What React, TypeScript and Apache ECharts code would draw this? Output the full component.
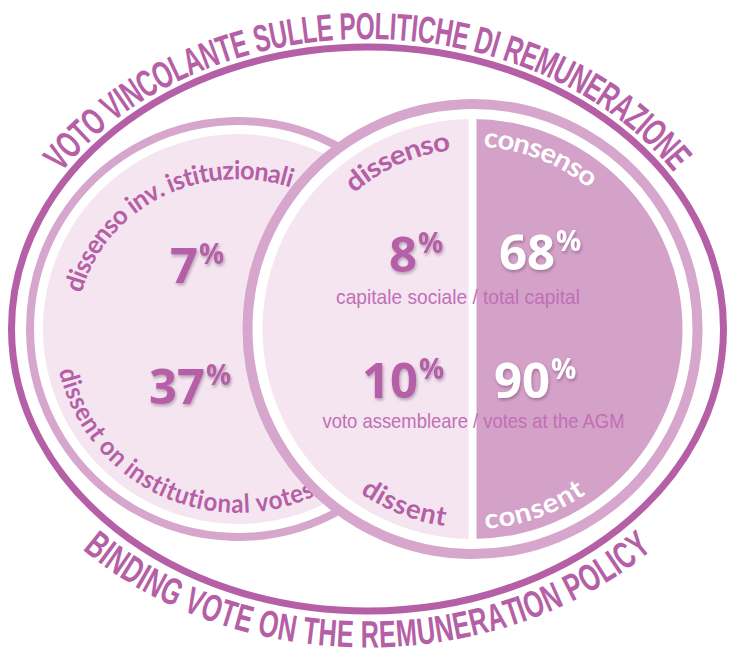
import React, { useEffect, useRef } from "react";
import * as echarts from "echarts";

// ---------- data ----------
const titleTop = "VOTO VINCOLANTE SULLE POLITICHE DI REMUNERAZIONE";
const titleBottom = "BINDING VOTE ON THE REMUNERATION POLICY";
const institutionalLabels = ["dissenso inv. istituzionali", "dissent on institutional votes"];
const dissentLabels = ["dissenso", "dissent"];
const consentLabels = ["consenso", "consent"];
const rowLabels = ["capitale sociale / total capital", "voto assembleare / votes at the AGM"];
const institutionalDissent = [7, 37];
const dissentValues = [8, 10];
const consentValues = [68, 90];

// ---------- styles / layout ----------
const W = 729;
const H = 660;
const C_DARK = "#b55fa6";
const C_RING = "#d6a6cc";
const C_LIGHT = "#f4e5f1";
const C_MED = "#d4a1c9";
const C_SUB = "#c16fb5";
const TITLE_FONT = "'Liberation Sans Narrow', 'Liberation Sans', Arial, sans-serif";
const LABEL_FONT = "Lato, 'Open Sans', sans-serif";
const NUM_FONT = "'Open Sans', 'Noto Sans', sans-serif";

const OUT = { cx: 367.5, cy: 329, rx: 356, ry: 282 };
const LC = { cx: 238, cy: 329, ring: 208, fill: 195 };
const RC = { cx: 472.5, cy: 329, ring: 225, fill: 210 };

let ctx: CanvasRenderingContext2D | null = null;
function measure(font: string, s: string): number {
  if (!ctx) ctx = document.createElement("canvas").getContext("2d");
  ctx!.font = font;
  return ctx!.measureText(s).width;
}

type ArcOpts = {
  cx: number; cy: number; rx: number; ry: number;
  t0: number; t1: number;
  fontSize: number; fontFamily: string; fontWeight: string | number;
  color: string;
};

function arcText(text: string, o: ArcOpts): any[] {
  const font = `${o.fontWeight} ${o.fontSize}px ${o.fontFamily}`;
  const a0 = (o.t0 * Math.PI) / 180;
  const a1 = (o.t1 * Math.PI) / 180;
  const dir = a1 > a0 ? 1 : -1;
  const N = 3000;
  const ts: number[] = [a0];
  const ls: number[] = [0];
  let L = 0;
  let px = o.cx + o.rx * Math.cos(a0);
  let py = o.cy + o.ry * Math.sin(a0);
  for (let i = 1; i <= N; i++) {
    const t = a0 + ((a1 - a0) * i) / N;
    const x = o.cx + o.rx * Math.cos(t);
    const y = o.cy + o.ry * Math.sin(t);
    L += Math.hypot(x - px, y - py);
    px = x;
    py = y;
    ts.push(t);
    ls.push(L);
  }
  const total = measure(font, text);
  const k = L / total;
  const els: any[] = [];
  for (let i = 0; i < text.length; i++) {
    const ch = text[i];
    if (ch === " ") continue;
    const start = measure(font, text.slice(0, i));
    const w = measure(font, ch);
    const s = (start + w / 2) * k;
    let lo = 0;
    let hi = N;
    while (hi - lo > 1) {
      const m = (lo + hi) >> 1;
      if (ls[m] < s) lo = m;
      else hi = m;
    }
    const f = (s - ls[lo]) / (ls[hi] - ls[lo] || 1);
    const t = ts[lo] + (ts[hi] - ts[lo]) * f;
    const x = o.cx + o.rx * Math.cos(t);
    const y = o.cy + o.ry * Math.sin(t);
    const dx = -o.rx * Math.sin(t) * dir;
    const dy = o.ry * Math.cos(t) * dir;
    const theta = Math.atan2(dy, dx);
    els.push({
      type: "text",
      x,
      y,
      rotation: -theta,
      scaleX: k,
      silent: true,
      style: {
        text: ch,
        fill: o.color,
        fontSize: o.fontSize,
        fontFamily: o.fontFamily,
        fontWeight: o.fontWeight,
        align: "center",
        verticalAlign: "middle",
      },
    });
  }
  return els;
}

function fitText(text: string, cx: number, cy: number, width: number, fontSize: number, color: string) {
  const font = `normal ${fontSize}px ${TITLE_FONT}`;
  const k = width / measure(font, text);
  return {
    type: "text",
    x: cx,
    y: cy,
    scaleX: k,
    silent: true,
    style: {
      text,
      fill: color,
      fontSize,
      fontFamily: TITLE_FONT,
      fontWeight: "normal",
      align: "center",
      verticalAlign: "middle",
    },
  };
}

function numberText(value: number, xRight: number, y: number, color: string) {
  const shadow = {
    textShadowColor: "rgba(60,20,60,0.35)",
    textShadowBlur: 3,
    textShadowOffsetX: 1,
    textShadowOffsetY: 2,
  };
  return [
    {
      type: "text",
      x: xRight,
      y,
      silent: true,
      style: {
        text: String(value),
        fill: color,
        fontSize: 49,
        fontFamily: NUM_FONT,
        fontWeight: "bold",
        align: "right",
        verticalAlign: "middle",
        ...shadow,
      },
    },
    {
      type: "text",
      x: xRight + 1,
      y: y - 11,
      silent: true,
      style: {
        text: "%",
        fill: color,
        fontSize: 28,
        fontFamily: NUM_FONT,
        fontWeight: "bold",
        align: "left",
        verticalAlign: "middle",
        ...shadow,
      },
    },
  ];
}

// number anchor layout (right edge of digits, vertical centre)
const leftNumPos = [
  [198, 264],
  [205, 385],
];
const dissentNumPos = [
  [417, 252.5],
  [418, 379],
];
const consentNumPos = [
  [555, 251],
  [550, 379],
];

function buildElements(): any[] {
  const els: any[] = [];
  els.push({ type: "rect", shape: { x: 0, y: 0, width: W, height: H }, style: { fill: "#ffffff" }, silent: true });

  // outer ellipse
  els.push({
    type: "ellipse",
    shape: { cx: OUT.cx, cy: OUT.cy, rx: OUT.rx, ry: OUT.ry },
    style: { fill: "none", stroke: C_DARK, lineWidth: 7 },
    silent: true,
  });

  // left circle
  els.push({ type: "circle", shape: { cx: LC.cx, cy: LC.cy, r: LC.fill }, style: { fill: C_LIGHT }, silent: true });
  els.push({
    type: "circle",
    shape: { cx: LC.cx, cy: LC.cy, r: LC.ring },
    style: { fill: "none", stroke: C_RING, lineWidth: 8 },
    silent: true,
  });
  els.push(
    ...arcText(institutionalLabels[0], {
      cx: LC.cx, cy: LC.cy, rx: 171, ry: 160, t0: -166, t1: -71,
      fontSize: 26, fontFamily: LABEL_FONT, fontWeight: "bold", color: C_DARK,
    })
  );
  els.push(
    ...arcText(institutionalLabels[1], {
      cx: LC.cx, cy: LC.cy, rx: 173.5, ry: 173.5, t0: 167, t1: 65,
      fontSize: 26, fontFamily: LABEL_FONT, fontWeight: "bold", color: C_DARK,
    })
  );

  // right circle
  els.push({ type: "circle", shape: { cx: RC.cx, cy: RC.cy, r: 221 }, style: { fill: "#ffffff" }, silent: true });
  els.push({
    type: "sector",
    shape: { cx: RC.cx, cy: RC.cy, r: RC.fill, r0: 0, startAngle: Math.PI / 2, endAngle: (3 * Math.PI) / 2, clockwise: true },
    style: { fill: C_LIGHT },
    silent: true,
  });
  els.push({
    type: "sector",
    shape: { cx: RC.cx, cy: RC.cy, r: RC.fill, r0: 0, startAngle: -Math.PI / 2, endAngle: Math.PI / 2, clockwise: true },
    style: { fill: C_MED },
    silent: true,
  });
  els.push({
    type: "rect",
    shape: { x: RC.cx - 4, y: RC.cy - RC.fill - 2, width: 8, height: RC.fill * 2 + 4 },
    style: { fill: "#ffffff" },
    silent: true,
  });
  els.push({
    type: "circle",
    shape: { cx: RC.cx, cy: RC.cy, r: RC.ring },
    style: { fill: "none", stroke: C_RING, lineWidth: 10 },
    silent: true,
  });

  els.push(
    ...arcText(dissentLabels[0], {
      cx: RC.cx, cy: RC.cy, rx: 190.5, ry: 190.5, t0: -131, t1: -97,
      fontSize: 27, fontFamily: LABEL_FONT, fontWeight: "bold", color: C_DARK,
    })
  );
  els.push(
    ...arcText(consentLabels[0], {
      cx: RC.cx, cy: RC.cy, rx: 193, ry: 193, t0: -86.5, t1: -50.5,
      fontSize: 27, fontFamily: LABEL_FONT, fontWeight: "bold", color: "#ffffff",
    })
  );
  els.push(
    ...arcText(dissentLabels[1], {
      cx: RC.cx, cy: RC.cy, rx: 188.5, ry: 188.5, t0: 124.5, t1: 98,
      fontSize: 27, fontFamily: LABEL_FONT, fontWeight: "bold", color: C_DARK,
    })
  );
  els.push(
    ...arcText(consentLabels[1], {
      cx: RC.cx, cy: RC.cy, rx: 189.5, ry: 189.5, t0: 86.5, t1: 55.5,
      fontSize: 27, fontFamily: LABEL_FONT, fontWeight: "bold", color: "#ffffff",
    })
  );

  // numbers
  institutionalDissent.forEach((v, i) => els.push(...numberText(v, leftNumPos[i][0], leftNumPos[i][1], C_DARK)));
  dissentValues.forEach((v, i) => els.push(...numberText(v, dissentNumPos[i][0], dissentNumPos[i][1], C_DARK)));
  consentValues.forEach((v, i) => els.push(...numberText(v, consentNumPos[i][0], consentNumPos[i][1], "#ffffff")));

  // row labels
  els.push(fitText(rowLabels[0], 458, 296.5, 244, 21, C_SUB));
  els.push(fitText(rowLabels[1], 473.5, 421, 303, 21, C_SUB));

  // outer titles
  els.push(
    ...arcText(titleTop, {
      cx: OUT.cx, cy: OUT.cy, rx: 377, ry: 303, t0: -147, t1: -33,
      fontSize: 38, fontFamily: TITLE_FONT, fontWeight: "bold", color: C_DARK,
    })
  );
  els.push(
    ...arcText(titleBottom, {
      cx: OUT.cx, cy: OUT.cy, rx: 382, ry: 305.5, t0: 136.5, t1: 43.5,
      fontSize: 38, fontFamily: TITLE_FONT, fontWeight: "bold", color: C_DARK,
    })
  );
  return els;
}

export default function App() {
  const ref = useRef<HTMLDivElement>(null);
  useEffect(() => {
    if (!ref.current) return;
    const chart = echarts.init(ref.current, null, { renderer: "svg", width: W, height: H });
    chart.setOption({
      animation: false,
      backgroundColor: "#ffffff",
      graphic: { elements: buildElements() },
    });
    return () => chart.dispose();
  }, []);
  return (
    <div
      ref={ref}
      style={{ position: "fixed", left: 0, top: 0, width: W, height: H, background: "#fff" }}
    />
  );
}
